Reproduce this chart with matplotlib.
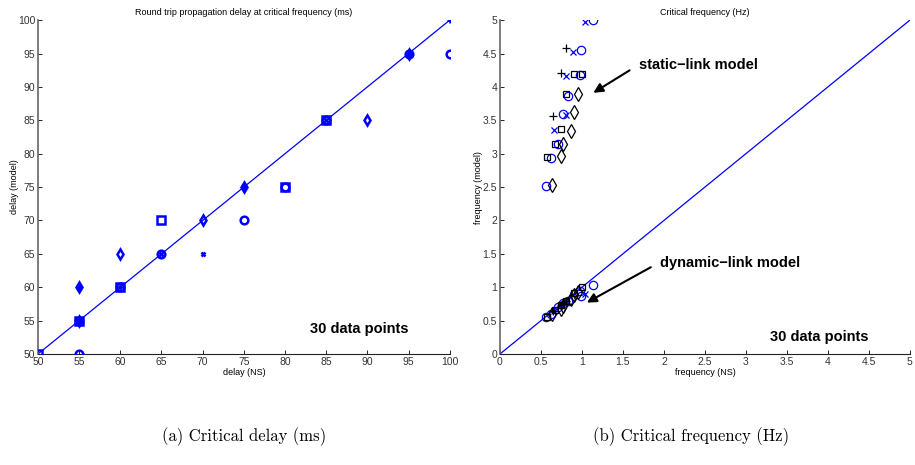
import matplotlib
matplotlib.use("Agg")
import matplotlib.pyplot as plt

# ---- (a) critical delay, one list per marker type ----
delay_circle_x = [55, 55, 60, 65, 75, 80, 85, 95, 100]
delay_circle_y = [50, 55, 60, 65, 70, 75, 85, 95, 95]
delay_square_x = [50, 55, 60, 65, 80, 85]
delay_square_y = [50, 55, 60, 70, 75, 85]
delay_diamond_x = [55, 55, 60, 70, 75, 90, 95]
delay_diamond_y = [55, 60, 65, 70, 75, 85, 95]
delay_cross_x = [55, 55, 65, 70, 85]
delay_cross_y = [55, 60, 65, 65, 85]
delay_plus_x = [55, 55, 60, 75, 95, 100]
delay_plus_y = [55, 60, 60, 75, 95, 100]
delay_ticks = [50, 55, 60, 65, 70, 75, 80, 85, 90, 95, 100]

# ---- (b) critical frequency: static-link and dynamic-link model ----
freq_circle_x = [1.135, 0.99, 0.975, 0.825, 0.77, 0.71, 0.62, 0.56]
freq_circle_static = [5.0, 4.55, 4.18, 3.86, 3.60, 3.15, 2.94, 2.51]
freq_circle_dynamic = [1.04, 0.87, 0.95, 0.80, 0.76, 0.70, 0.60, 0.55]
freq_cross_x = [1.035, 0.89, 0.80, 0.80, 0.66]
freq_cross_static = [4.97, 4.53, 4.16, 3.58, 3.35]
freq_cross_dynamic = [0.90, 0.88, 0.79, 0.78, 0.64]
freq_plus_x = [0.81, 0.74, 0.65]
freq_plus_static = [4.58, 4.21, 3.56]
freq_plus_dynamic = [0.80, 0.73, 0.64]
freq_square_x = [0.905, 1.0, 0.80, 0.75, 0.67, 0.57]
freq_square_static = [4.20, 4.19, 3.89, 3.37, 3.14, 2.95]
freq_square_dynamic = [0.92, 1.01, 0.80, 0.74, 0.66, 0.56]
freq_diamond_x = [0.946, 0.905, 0.87, 0.77, 0.75, 0.64]
freq_diamond_static = [3.89, 3.62, 3.34, 3.14, 2.97, 2.53]
freq_diamond_dynamic = [0.93, 0.88, 0.83, 0.72, 0.68, 0.60]
freq_ticks = [0, 0.5, 1, 1.5, 2, 2.5, 3, 3.5, 4, 4.5, 5]

BLUE = "#0000ff"
TICK_FONT = "Liberation Sans"


def _fmt(v):
    return f"{v:g}"


def _style_axes(ax, ticks):
    ax.spines[["top", "right"]].set_visible(False)
    ax.spines["left"].set_color("#666666")
    ax.spines["left"].set_linewidth(1.2)
    ax.spines["bottom"].set_color("#222222")
    ax.set_xticks(ticks)
    ax.set_yticks(ticks)
    ax.set_xticklabels([_fmt(t) for t in ticks], fontsize=7.5, family=TICK_FONT, color="#333333")
    ax.set_yticklabels([_fmt(t) for t in ticks], fontsize=7.5, family=TICK_FONT, color="#333333")
    ax.tick_params(direction="in", length=3, width=0.6, pad=2)


fig = plt.figure(figsize=(9.15, 4.65), dpi=100)

# ---------------- (a) ----------------
ax1 = fig.add_axes([0.0415, 0.2387, 0.450, 0.718])
ax1.plot([50, 100], [50, 100], color=BLUE, lw=0.9, zorder=2)
mk = dict(linestyle="none", color=BLUE, mfc="none", mew=1.8, ms=5.5, zorder=3)
ax1.plot(delay_circle_x, delay_circle_y, marker="o", **mk)
ax1.plot(delay_square_x, delay_square_y, marker="s", **mk)
ax1.plot(delay_diamond_x, delay_diamond_y, marker="d", **mk)
ax1.plot(delay_cross_x, delay_cross_y, marker="x", **dict(mk, ms=3.5))
ax1.plot(delay_plus_x, delay_plus_y, marker="+", **dict(mk, ms=4))
ax1.set_xlim(50, 100)
ax1.set_ylim(50, 100)
_style_axes(ax1, delay_ticks)
ax1.set_title("Round trip propagation delay at critical frequency (ms)",
              fontsize=6.5, family=TICK_FONT, pad=4)
ax1.set_xlabel("delay (NS)", fontsize=6.5, family=TICK_FONT, labelpad=1)
ax1.set_ylabel("delay (model)", fontsize=6.5, family=TICK_FONT, labelpad=-1)
ax1.text(95, 53.7, "30 data points", fontsize=10.5, fontweight="bold",
         family=TICK_FONT, ha="right", va="center")

# ---------------- (b) ----------------
ax2 = fig.add_axes([0.5464, 0.2387, 0.448, 0.718])
ax2.plot([0, 5], [0, 5], color=BLUE, lw=0.9, zorder=2)
blue_mk = dict(linestyle="none", color=BLUE, mfc="none", mew=0.9, zorder=3)
black_mk = dict(linestyle="none", color="black", mfc="none", mew=0.9, zorder=3)
for y in (freq_circle_static, freq_circle_dynamic):
    ax2.plot(freq_circle_x, y, marker="o", ms=6, **blue_mk)
for y in (freq_cross_static, freq_cross_dynamic):
    ax2.plot(freq_cross_x, y, marker="x", ms=4, **blue_mk)
for y in (freq_plus_static, freq_plus_dynamic):
    ax2.plot(freq_plus_x, y, marker="+", ms=6, **black_mk)
for y in (freq_square_static, freq_square_dynamic):
    ax2.plot(freq_square_x, y, marker="s", ms=5, **black_mk)
for y in (freq_diamond_static, freq_diamond_dynamic):
    ax2.plot(freq_diamond_x, y, marker="d", ms=7, **black_mk)
ax2.set_xlim(0, 5)
ax2.set_ylim(0, 5)
_style_axes(ax2, freq_ticks)
ax2.set_title("Critical frequency (Hz)", fontsize=6.5, family=TICK_FONT, pad=4)
ax2.set_xlabel("frequency (NS)", fontsize=6.5, family=TICK_FONT, labelpad=1)
ax2.set_ylabel("frequency (model)", fontsize=6.5, family=TICK_FONT, labelpad=0)

arrow = dict(arrowstyle="-|>", color="black", lw=1.5, mutation_scale=14)
ax2.annotate("", xy=(1.11, 3.89), xytext=(1.61, 4.27), arrowprops=arrow)
ax2.text(1.69, 4.33, "static\u2212link model", fontsize=10.5, fontweight="bold",
         family=TICK_FONT, va="center")
ax2.annotate("", xy=(1.03, 0.75), xytext=(1.87, 1.32), arrowprops=arrow)
ax2.text(1.95, 1.36, "dynamic\u2212link model", fontsize=10.5, fontweight="bold",
         family=TICK_FONT, va="center")
ax2.text(4.5, 0.25, "30 data points", fontsize=10.5, fontweight="bold",
         family=TICK_FONT, ha="right", va="center")

# sub-captions
fig.text(0.267, 0.06, "(a) Critical delay (ms)", fontsize=12, family="cmr10",
         ha="center", va="center")
fig.text(0.755, 0.06, "(b) Critical frequency (Hz)", fontsize=12, family="cmr10",
         ha="center", va="center")

fig.savefig("out.png", dpi=100)
